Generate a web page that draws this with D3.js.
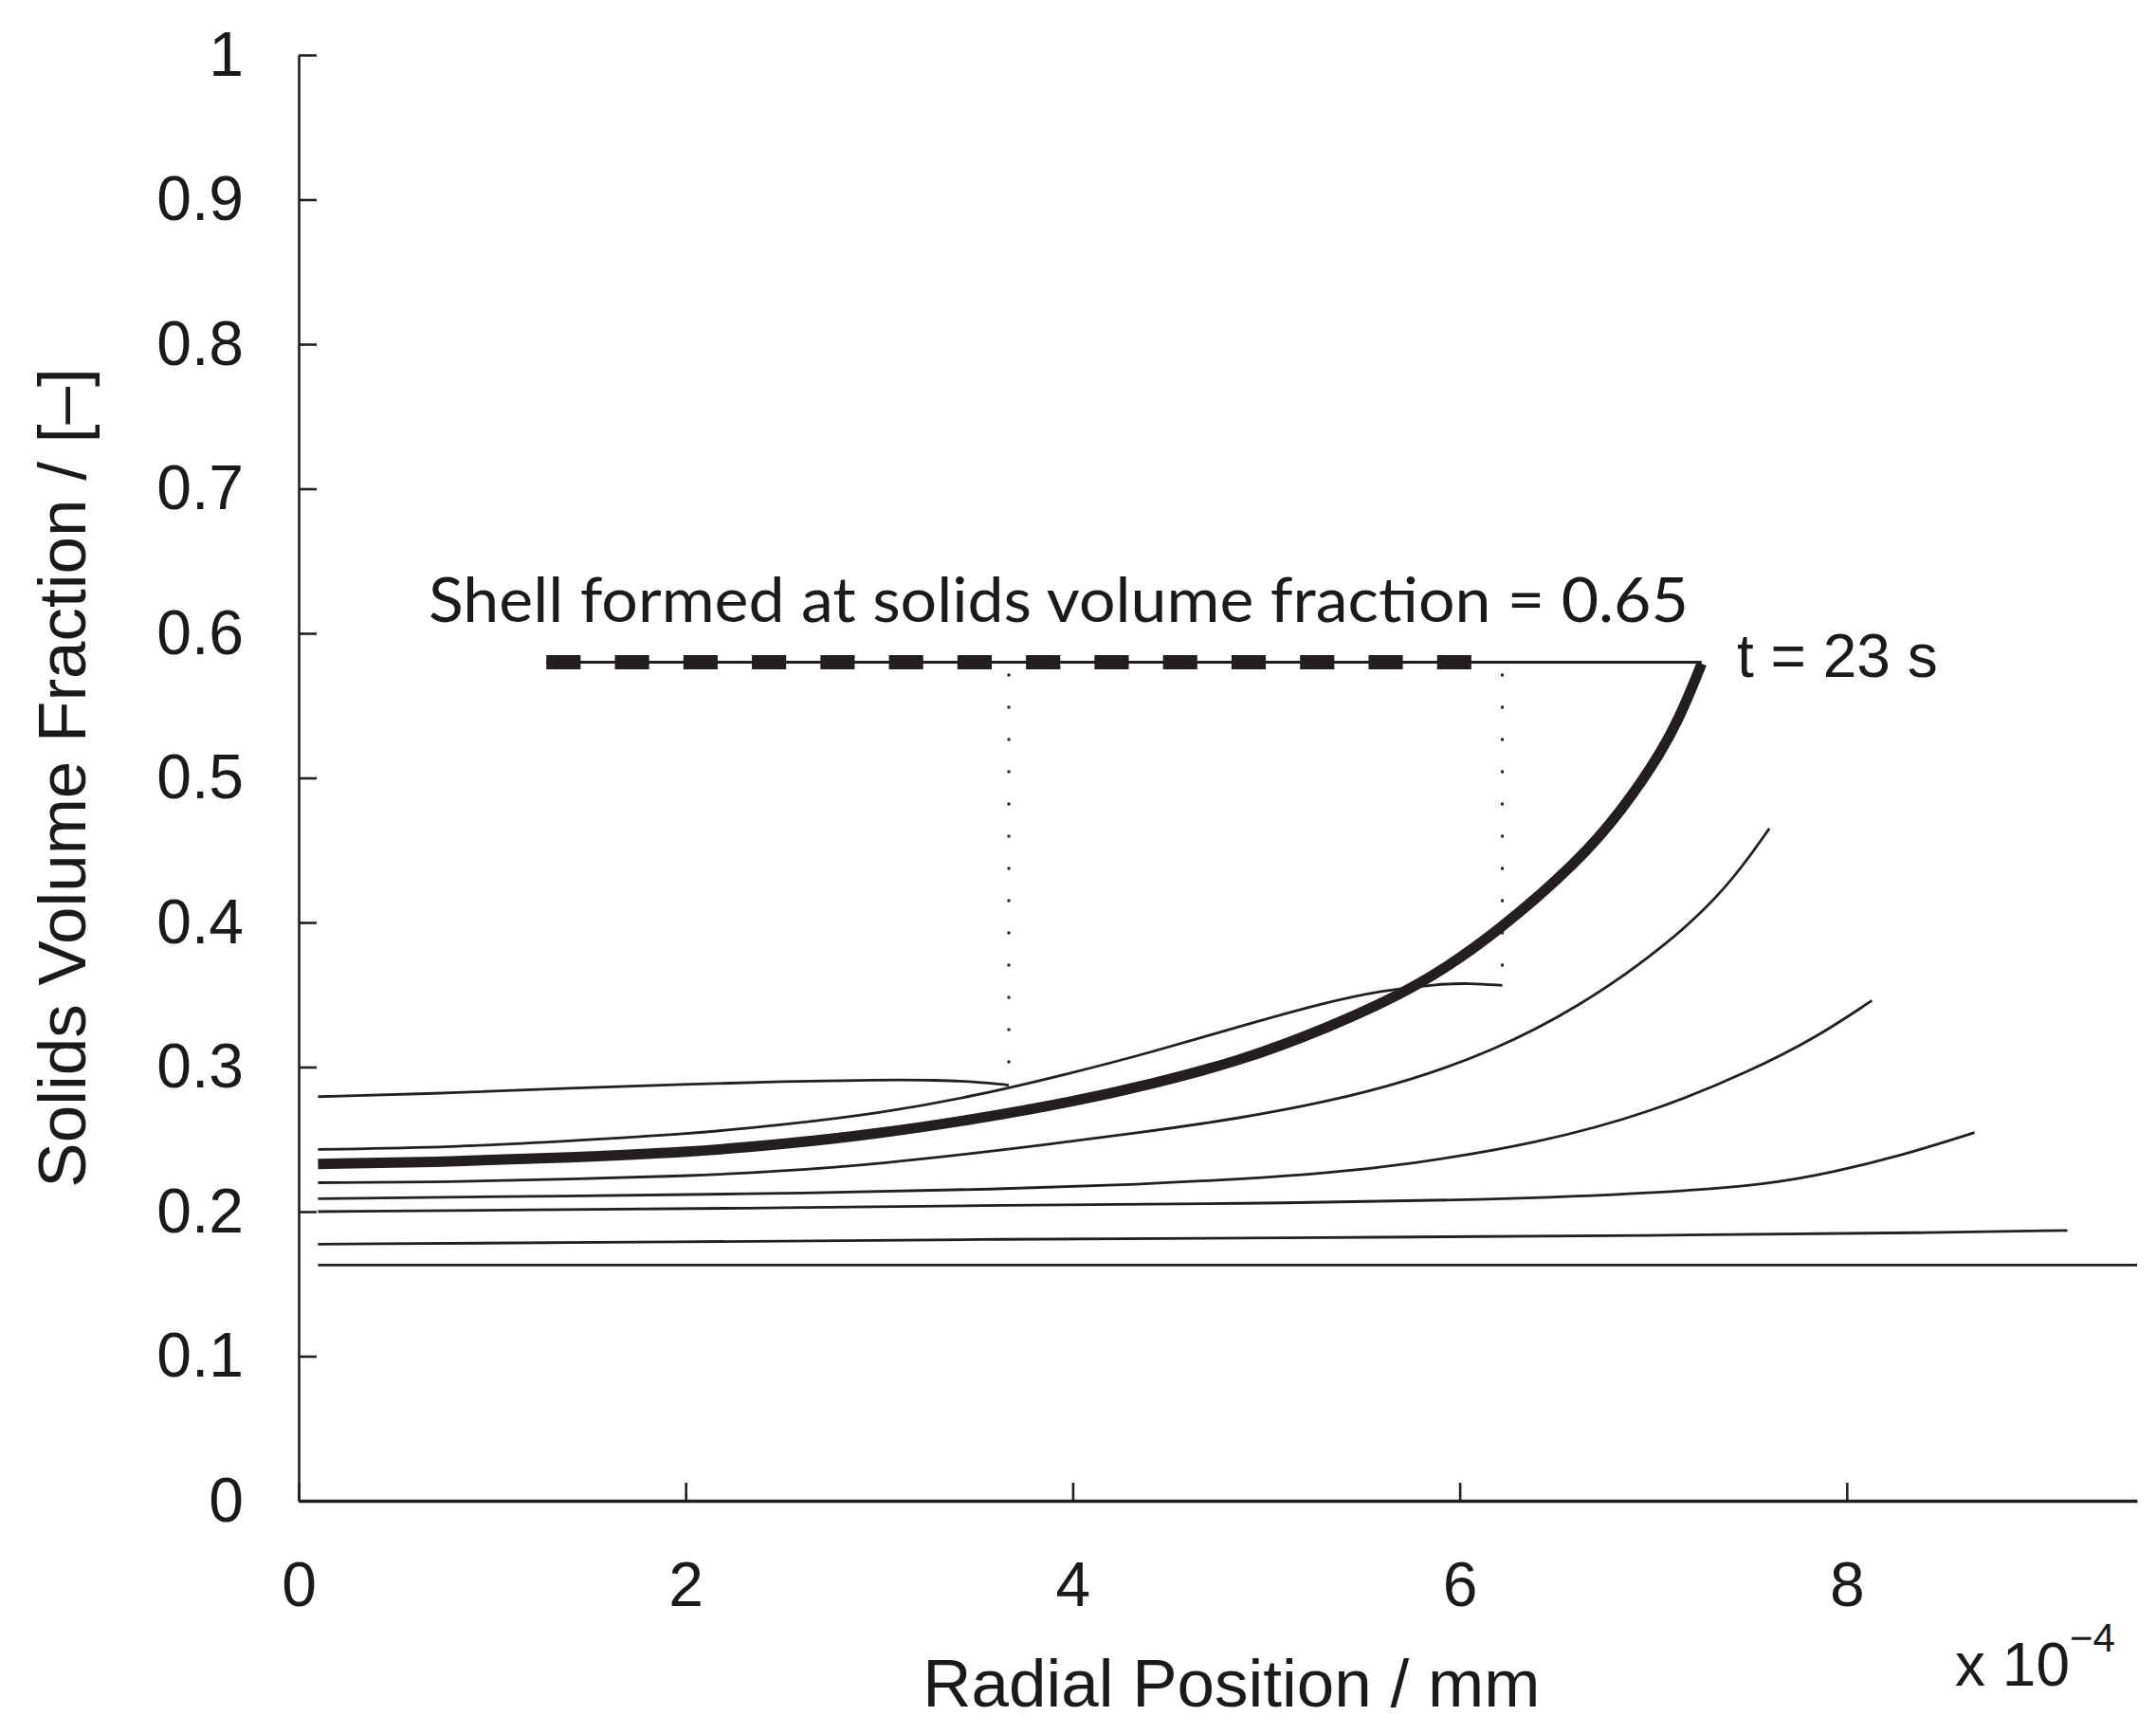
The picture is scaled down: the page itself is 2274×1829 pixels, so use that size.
<!DOCTYPE html>
<html>
<head>
<meta charset="utf-8">
<script src="https://cdn.jsdelivr.net/npm/d3@7"></script>
<style>
  body { margin: 0; background: #fff; }
  svg { display: block; }
</style>
</head>
<body>
<script>
//Width and height
var w = 2274;
var h = 1829;

//Profiles: radial position (x 10^-4 mm) and solids volume fraction
var profileH = [[0.1,0.163],[3.0,0.163],[6.0,0.163],[9.5,0.163]];
var profileG = [[0.1,0.1775],[2.0,0.179],[3.64,0.181],[5.3,0.182],[7.0,0.1835],[8.5,0.1855],[9.14,0.187]];
var profileF = [[0.1,0.200],[1.4,0.2015],[2.5,0.2025],[3.64,0.2045],[4.86,0.2055],[6.17,0.208],[7.05,0.213],[7.6,0.219],[7.92,0.227],[8.29,0.239],[8.66,0.2547]];
var profileE = [[0.1,0.209],[1.4,0.2108],[2.5,0.2125],[3.64,0.2155],[4.37,0.219],[4.86,0.2225],[5.3,0.2265],[5.73,0.2325],[6.4,0.247],[7.0,0.269],[7.5,0.297],[7.85,0.321],[8.13,0.346]];
var profileD = [[0.1,0.220],[0.8,0.2205],[1.4,0.2225],[2.0,0.2245],[2.5,0.228],[3.0,0.233],[3.64,0.2425],[4.37,0.255],[4.86,0.2645],[5.3,0.2755],[5.73,0.290],[6.17,0.311],[6.61,0.341],[7.05,0.382],[7.38,0.423],[7.60,0.465]];
var profileC = [[0.1,0.233],[0.8,0.2345],[1.4,0.2375],[2.0,0.241],[2.5,0.2465],[3.0,0.254],[3.5,0.264],[4.0,0.276],[4.4,0.288],[4.86,0.304],[5.3,0.326],[5.8,0.356],[6.22,0.396],[6.61,0.442],[6.83,0.476],[7.05,0.519],[7.16,0.549],[7.25,0.579]];
var profileB = [[0.1,0.243],[0.8,0.2445],[1.4,0.249],[2.0,0.2535],[2.5,0.260],[3.0,0.268],[3.5,0.280],[4.0,0.296],[4.4,0.310],[4.86,0.328],[5.3,0.3445],[5.6,0.353],[5.9,0.3575],[6.05,0.358],[6.22,0.3565]];
var profileA = [[0.1,0.2795],[0.8,0.282],[1.4,0.2855],[2.0,0.288],[2.5,0.290],[3.0,0.2912],[3.3,0.291],[3.5,0.2898],[3.67,0.2875]];

var thinProfiles = [profileH, profileG, profileF, profileE, profileD, profileB, profileA];

//Shell annotation
var shellLevel = 0.58;
var shellStart = 1.28;
var shellDashEnd = 6.06;
var shellEnd = 7.25;
var shellDashCount = 14;
var innerRadii = [[3.67, 0.2875], [6.22, 0.3565]];

//Axes
var xTicks = [0, 2, 4, 6, 8];
var yTicks = [0, 0.1, 0.2, 0.3, 0.4, 0.5, 0.6, 0.7, 0.8, 0.9, 1];
var xDomain = [0, 9.5];
var yDomain = [0, 1];

var ink = "#231f20";
var sans = "'Liberation Sans', Arial, sans-serif";

var xScale = d3.scaleLinear()
                .domain(xDomain)
                .range([315, 2254]);

var yScale = d3.scaleLinear()
                .domain(yDomain)
                .range([1583, 58]);

//Create SVG element
var svg = d3.select("body")
            .append("svg")
            .attr("width", w)
            .attr("height", h);

var line = d3.line()
             .x(function(d) { return xScale(d[0]); })
             .y(function(d) { return yScale(d[1]); })
             .curve(d3.curveBasis);

//Thin profiles
svg.selectAll("path.profile")
   .data(thinProfiles)
   .enter()
   .append("path")
   .attr("class", "profile")
   .attr("d", line)
   .attr("fill", "none")
   .attr("stroke", ink)
   .attr("stroke-width", 2.8);

//Profile at t = 23 s
svg.append("path")
   .datum(profileC)
   .attr("d", line)
   .attr("fill", "none")
   .attr("stroke", ink)
   .attr("stroke-width", 11);

//Dotted lines from the shell down to the inner profiles
svg.selectAll("line.inner")
   .data(innerRadii)
   .enter()
   .append("line")
   .attr("class", "inner")
   .attr("x1", function(d) { return xScale(d[0]); })
   .attr("x2", function(d) { return xScale(d[0]); })
   .attr("y1", yScale(shellLevel) + 12)
   .attr("y2", function(d) { return yScale(d[1]); })
   .attr("stroke", ink)
   .attr("stroke-width", 3)
   .attr("stroke-dasharray", "3,31");

//Shell line
svg.append("line")
   .attr("x1", xScale(shellStart))
   .attr("x2", xScale(shellEnd))
   .attr("y1", yScale(shellLevel))
   .attr("y2", yScale(shellLevel))
   .attr("stroke", ink)
   .attr("stroke-width", 3);

var dashLen = (xScale(shellDashEnd) - xScale(shellStart)) / (2 * shellDashCount - 1);
svg.append("line")
   .attr("x1", xScale(shellStart))
   .attr("x2", xScale(shellDashEnd))
   .attr("y1", yScale(shellLevel))
   .attr("y2", yScale(shellLevel))
   .attr("stroke", ink)
   .attr("stroke-width", 15)
   .attr("stroke-dasharray", dashLen + "," + dashLen);

//Axes
var xAxis = d3.axisBottom(xScale)
              .tickValues(xTicks)
              .tickFormat(function(d) { return String(d); })
              .tickSizeInner(-19)
              .tickSizeOuter(0)
              .tickPadding(64);

var yAxis = d3.axisLeft(yScale)
              .tickValues(yTicks)
              .tickFormat(function(d) { return String(d); })
              .tickSizeInner(-19)
              .tickSizeOuter(0)
              .tickPadding(58);

var gx = svg.append("g")
   .attr("transform", "translate(0," + yScale(0) + ")")
   .call(xAxis);

var gy = svg.append("g")
   .attr("transform", "translate(" + xScale(0) + ",0)")
   .call(yAxis);

gx.select(".domain").attr("stroke", ink).attr("stroke-width", 3.5);
gy.select(".domain").attr("stroke", ink).attr("stroke-width", 2.6);
svg.selectAll(".tick line").attr("stroke", ink).attr("stroke-width", 2.6);
svg.selectAll(".tick text")
   .attr("font-family", sans)
   .attr("font-size", "66px")
   .attr("fill", "#1a1a1a");

//Axis titles
svg.append("text")
   .text("Radial Position / mm")
   .attr("x", xScale(4.82))
   .attr("y", 1800)
   .attr("text-anchor", "middle")
   .attr("font-family", sans)
   .attr("font-size", "71px")
   .attr("fill", "#1a1a1a");

svg.append("text")
   .text("Solids Volume Fraction / [\u2013]")
   .attr("transform", "translate(90," + yScale(0.5) + ") rotate(-90)")
   .attr("text-anchor", "middle")
   .attr("font-family", sans)
   .attr("font-size", "71px")
   .attr("fill", "#1a1a1a");

//Exponent of the x axis
var expo = svg.append("text")
   .attr("x", 2062)
   .attr("y", 1778)
   .attr("font-family", sans)
   .attr("font-size", "64px")
   .attr("fill", "#1a1a1a");
expo.append("tspan").text("x 10");
expo.append("tspan")
    .text("\u22124")
    .attr("font-size", "42px")
    .attr("dy", -36);

//Annotations
svg.append("text")
   .text("Shell formed at solids volume fraction = 0.65")
   .attr("x", 452)
   .attr("y", 656)
   .attr("textLength", 1329)
   .attr("lengthAdjust", "spacingAndGlyphs")
   .attr("font-family", "Lato, 'Open Sans', sans-serif")
   .attr("font-size", "66px")
   .attr("fill", "#1a1a1a");

svg.append("text")
   .text("t = 23 s")
   .attr("x", 1832)
   .attr("y", 714)
   .attr("font-family", sans)
   .attr("font-size", "64px")
   .attr("fill", "#1a1a1a");
</script>
</body>
</html>
